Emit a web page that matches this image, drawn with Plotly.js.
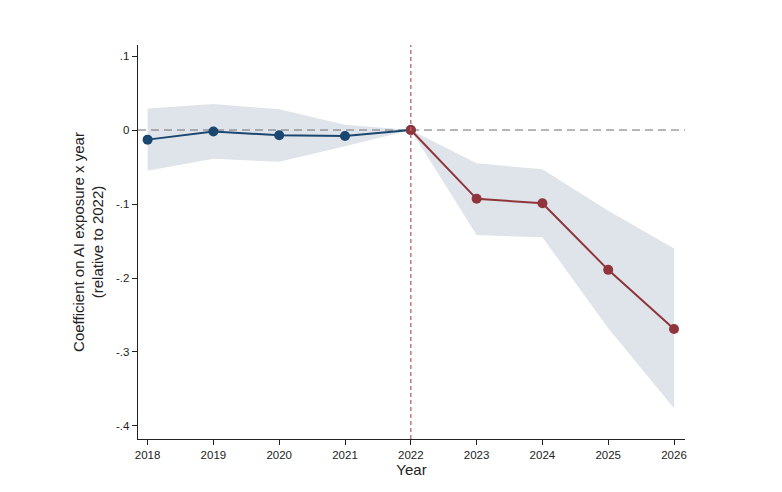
<!DOCTYPE html>
<html>
<head>
<meta charset="utf-8">
<script src="https://cdn.plot.ly/plotly-3.0.1.min.js"></script>
<style>html,body{margin:0;padding:0;background:#fff;}#chart{width:782px;height:492px;}</style>
</head>
<body>
<div id="chart"></div>
<script>
var years = [2018, 2019, 2020, 2021, 2022, 2023, 2024, 2025, 2026];
var coef  = [-0.013, -0.002, -0.007, -0.008, 0, -0.093, -0.099, -0.189, -0.269];
var ciHi  = [0.029, 0.035, 0.028, 0.007, 0, -0.045, -0.053, -0.109, -0.160];
var ciLo  = [-0.055, -0.039, -0.043, -0.022, 0, -0.142, -0.145, -0.268, -0.376];
var preYears = years.slice(0, 5), preCoef = coef.slice(0, 5);
var postYears = years.slice(4), postCoef = coef.slice(4);
var yTickVals = [0.1, 0, -0.1, -0.2, -0.3, -0.4];
var yTickText = ['.1', '0', '-.1', '-.2', '-.3', '-.4'];
var eventYear = 2022;
var xRange = [2017.854, 2026.167];
var yRange = [-0.4176, 0.1149];

var band = {
  x: years.concat(years.slice().reverse()),
  y: ciHi.concat(ciLo.slice().reverse()),
  fill: 'toself', fillcolor: '#dfe4eb', line: {width: 0, color: 'rgba(0,0,0,0)'},
  mode: 'lines', hoverinfo: 'skip', showlegend: false
};
var zeroLine = {
  x: xRange, y: [0, 0], mode: 'lines',
  line: {color: '#6e6e6e', width: 1, dash: '8px,5px'}, showlegend: false, hoverinfo: 'skip'
};
var pre = {
  x: preYears, y: preCoef, mode: 'lines+markers',
  line: {color: '#1a476f', width: 2}, marker: {color: '#1a476f', size: 10},
  showlegend: false
};
var post = {
  x: postYears, y: postCoef, mode: 'lines+markers',
  line: {color: '#90353b', width: 2}, marker: {color: '#90353b', size: 10},
  showlegend: false
};

var layout = {
  width: 782, height: 492,
  margin: {l: 138, r: 97, t: 45, b: 53},
  paper_bgcolor: '#fff', plot_bgcolor: '#fff',
  font: {family: 'Liberation Sans, Arial, sans-serif', color: '#222'},
  xaxis: {
    range: xRange, tickvals: years, ticktext: years.map(String),
    ticks: 'outside', ticklen: 5, tickwidth: 1, tickcolor: '#222',
    showline: true, linecolor: '#222', linewidth: 1.3, showgrid: false, zeroline: false,
    tickfont: {size: 11.5, color: '#222'},
    title: {text: 'Year', font: {size: 15, color: '#222'}, standoff: 2}
  },
  yaxis: {
    range: yRange, tickvals: yTickVals, ticktext: yTickText,
    ticks: 'outside', ticklen: 5, tickwidth: 1, tickcolor: '#222',
    showline: true, linecolor: '#222', linewidth: 1.3, showgrid: false, zeroline: false,
    tickfont: {size: 11.5, color: '#222'},
    title: {text: 'Coefficient on AI exposure x year<br>(relative to 2022)', font: {size: 15, color: '#222'}, standoff: 8}
  },
  shapes: [
    {type: 'line', xref: 'x', x0: eventYear, x1: eventYear, yref: 'paper', y0: 0, y1: 1,
     line: {color: '#b5646b', width: 1.3, dash: '4px,3px'}, layer: 'above'}
  ]
};
Plotly.newPlot('chart', [band, zeroLine, pre, post], layout, {displayModeBar: false, staticPlot: true});
</script>
</body>
</html>
